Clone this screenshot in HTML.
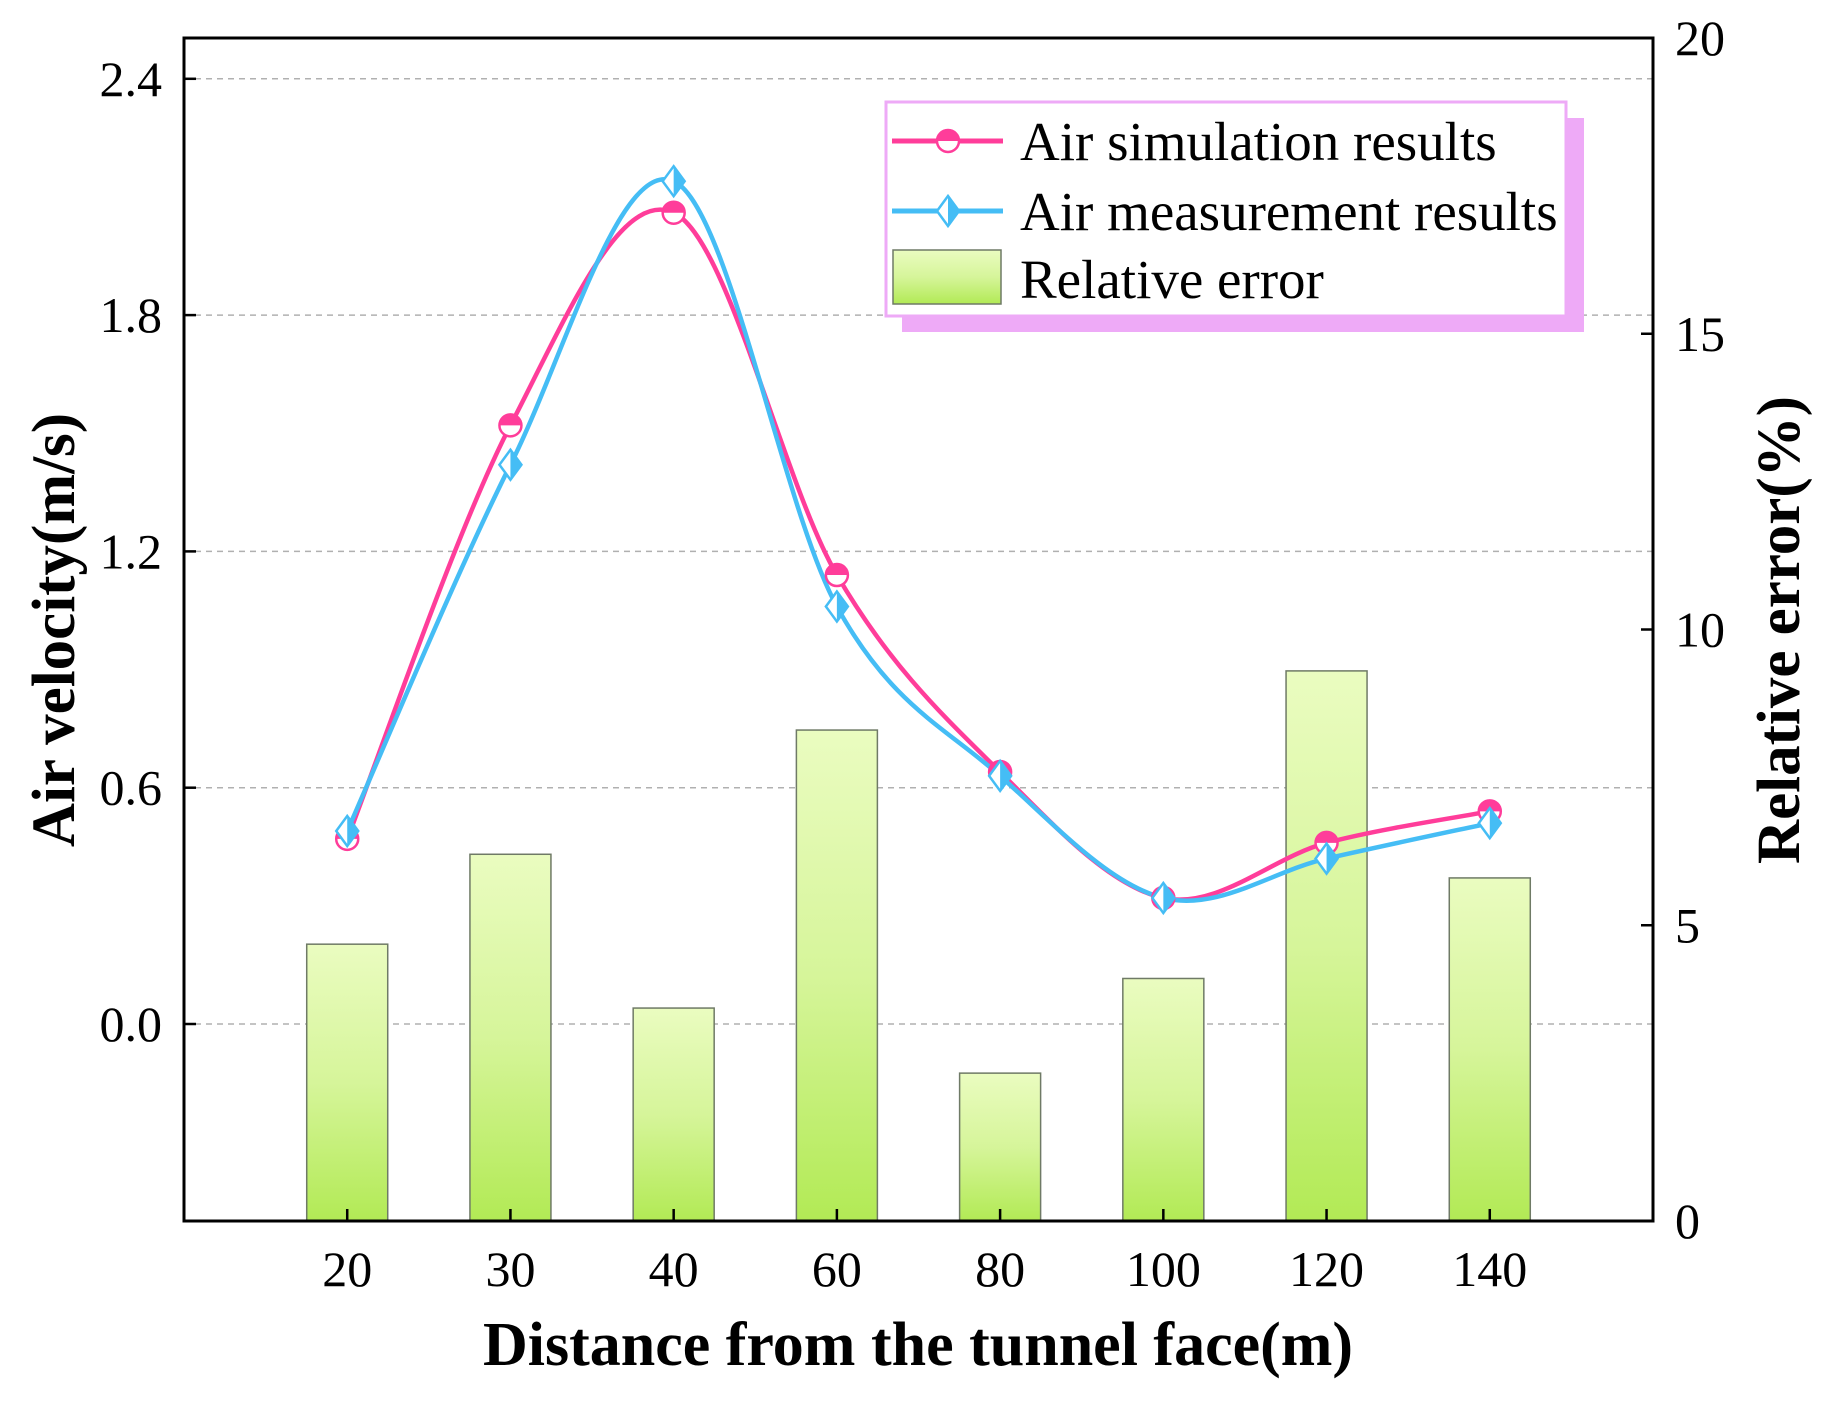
<!DOCTYPE html>
<html><head><meta charset="utf-8"><style>
html,body{margin:0;padding:0;background:#fff}
svg text{font-family:"Liberation Serif",serif}
</style></head><body>
<svg id="chart" width="1825" height="1402" xmlns="http://www.w3.org/2000/svg">
<defs>
<linearGradient id="barGrad" x1="0" y1="0" x2="0" y2="1">
<stop offset="0" stop-color="#eafcc0"/><stop offset="0.5" stop-color="#d6f59a"/><stop offset="1" stop-color="#b2ea55"/>
</linearGradient>
<clipPath id="plotClip"><rect x="184" y="38" width="1469" height="1183"/></clipPath>
</defs>
<g id="grid"></g>
<g id="bars" clip-path="url(#plotClip)"></g>
<g id="lines" clip-path="url(#plotClip)"></g>
<g id="axes"></g>
<g id="legend"></g>
</svg>
<script>
const categories = ["20","30","40","60","80","100","120","140"];
const relError = [4.68, 6.2, 3.6, 8.3, 2.5, 4.1, 9.3, 5.8];
const simValues = [0.47, 1.52, 2.06, 1.14, 0.64, 0.32, 0.46, 0.54];
const measValues = [0.49, 1.42, 2.14, 1.06, 0.63, 0.32, 0.42, 0.51];
const leftTicks = [0.0, 0.6, 1.2, 1.8, 2.4];
const leftTickLabels = ["0.0","0.6","1.2","1.8","2.4"];
const rightTicks = [0, 5, 10, 15, 20];

const NS = "http://www.w3.org/2000/svg";
const L = 184, R = 1653, T = 38, B = 1221;
const step = (R - L) / (categories.length + 1);
function xPos(i){ return L + step * (i + 1); }
function yLeft(v){ return 1024 - v / 0.6 * 236.3; }
function yRight(v){ return B - v / 20 * (B - T); }
function mk(tag, attrs, parent){ const e = document.createElementNS(NS, tag); for (const k in attrs) e.setAttribute(k, attrs[k]); parent.appendChild(e); return e; }

const grid = document.getElementById('grid');
leftTicks.forEach(v => {
  const g = mk('line', {x1:L, x2:R, y1:yLeft(v), y2:yLeft(v), stroke:'#b0b0b0', 'stroke-width':1.5, 'stroke-dasharray':'6 5'}, grid);
  
  
});

const bars = document.getElementById('bars');
const bw = 81;
relError.forEach((v, i) => {
  const r = mk('rect', {x:xPos(i)-bw/2, y:yRight(v), width:bw, height:B - yRight(v), fill:'url(#barGrad)', stroke:'#6f7a66', 'stroke-width':1.5}, bars);
  
  
});

function splinePath(vals){
  const pts = vals.map((v,i)=>[xPos(i), yLeft(v)]);
  let d = 'M' + pts[0][0] + ',' + pts[0][1];
  for (let i=0;i<pts.length-1;i++){
    const p0 = pts[Math.max(0,i-1)], p1 = pts[i], p2 = pts[i+1], p3 = pts[Math.min(pts.length-1,i+2)];
    const t = 1/6;
    const c1 = [p1[0] + (p2[0]-p0[0])*t, p1[1] + (p2[1]-p0[1])*t];
    const c2 = [p2[0] - (p3[0]-p1[0])*t, p2[1] - (p3[1]-p1[1])*t];
    d += ' C' + c1.join(',') + ' ' + c2.join(',') + ' ' + p2.join(',');
  }
  return d;
}
const lines = document.getElementById('lines');
const pink = '#ff3d9a', blue = '#45bdf5';
const simLine = mk('path', {d:splinePath(simValues), fill:'none', stroke:pink, 'stroke-width':4.5}, lines);


const measLine = mk('path', {d:splinePath(measValues), fill:'none', stroke:blue, 'stroke-width':4.5}, lines);



function circleMarker(cx, cy, parent){
  const g = mk('g', {}, parent);
  mk('circle', {cx:cx, cy:cy, r:11, fill:'#fff', stroke:pink, 'stroke-width':2.5}, g);
  mk('path', {d:`M${cx-11},${cy} A11,11 0 0 1 ${cx+11},${cy} Z`, fill:pink}, g);
  return g;
}
function diamondMarker(cx, cy, parent){
  const g = mk('g', {}, parent);
  mk('path', {d:`M${cx},${cy-15} L${cx+11},${cy} L${cx},${cy+15} L${cx-11},${cy} Z`, fill:'#fff', stroke:blue, 'stroke-width':2.5}, g);
  mk('path', {d:`M${cx},${cy-15} L${cx+11},${cy} L${cx},${cy+15} Z`, fill:blue}, g);
  return g;
}
simValues.forEach((v,i)=>{
  const m = circleMarker(xPos(i), yLeft(v), lines);
  
  
});
measValues.forEach((v,i)=>{
  const m = diamondMarker(xPos(i), yLeft(v), lines);
  
  
});

const axes = document.getElementById('axes');
const frame = mk('rect', {x:L, y:T, width:R-L, height:B-T, fill:'none', stroke:'#000', 'stroke-width':3}, axes);


leftTicks.forEach((v,i)=>{
  mk('line', {x1:L, x2:L+12, y1:yLeft(v), y2:yLeft(v), stroke:'#000', 'stroke-width':2.5}, axes);
  const t = mk('text', {x:L-22, y:yLeft(v)+17, 'text-anchor':'end', 'font-size':50}, axes);
  t.textContent = leftTickLabels[i];
  
  
});
rightTicks.forEach(v=>{
  mk('line', {x1:R-12, x2:R, y1:yRight(v), y2:yRight(v), stroke:'#000', 'stroke-width':2.5}, axes);
  const t = mk('text', {x:R+22, y:yRight(v)+17, 'font-size':50}, axes);
  t.textContent = String(v);
  
  
});
categories.forEach((c,i)=>{
  mk('line', {x1:xPos(i), x2:xPos(i), y1:B, y2:B-12, stroke:'#000', 'stroke-width':2.5}, axes);
  const t = mk('text', {x:xPos(i), y:1286, 'text-anchor':'middle', 'font-size':50}, axes);
  t.textContent = c;
  
  
});
const xt = mk('text', {x:918, y:1365, 'text-anchor':'middle', 'font-size':62, 'font-weight':'bold'}, axes);
xt.textContent = 'Distance from the tunnel face(m)';


const yt = mk('text', {x:0, y:0, 'text-anchor':'middle', 'font-size':61, 'font-weight':'bold', transform:'translate(74,630) rotate(-90)'}, axes);
yt.textContent = 'Air velocity(m/s)';


const yt2 = mk('text', {x:0, y:0, 'text-anchor':'middle', 'font-size':61, 'font-weight':'bold', transform:'translate(1799,630) rotate(-90)'}, axes);
yt2.textContent = 'Relative error(%)';



const lg = document.getElementById('legend');


mk('rect', {x:902, y:118, width:682, height:214, fill:'#eeaaf7'}, lg);
mk('rect', {x:886, y:102, width:680, height:214, fill:'#fff', stroke:'#eeaaf7', 'stroke-width':3}, lg);
const rows = [141, 211, 279];
const e1 = mk('g', {}, lg);


mk('line', {x1:892, x2:1003, y1:rows[0], y2:rows[0], stroke:pink, 'stroke-width':5}, e1);
circleMarker(948, rows[0], e1);
mk('text', {x:1020, y:rows[0]+19, 'font-size':55}, e1).textContent = 'Air simulation results';
const e2 = mk('g', {}, lg);


mk('line', {x1:892, x2:1003, y1:rows[1], y2:rows[1], stroke:blue, 'stroke-width':5}, e2);
diamondMarker(948, rows[1], e2);
mk('text', {x:1020, y:rows[1]+19, 'font-size':55}, e2).textContent = 'Air measurement results';
const e3 = mk('g', {}, lg);


mk('rect', {x:893, y:250, width:108, height:54, fill:'url(#barGrad)', stroke:'#6f7a66', 'stroke-width':1.5}, e3);
mk('text', {x:1020, y:rows[2]+19, 'font-size':55}, e3).textContent = 'Relative error';
</script>
</body></html>
